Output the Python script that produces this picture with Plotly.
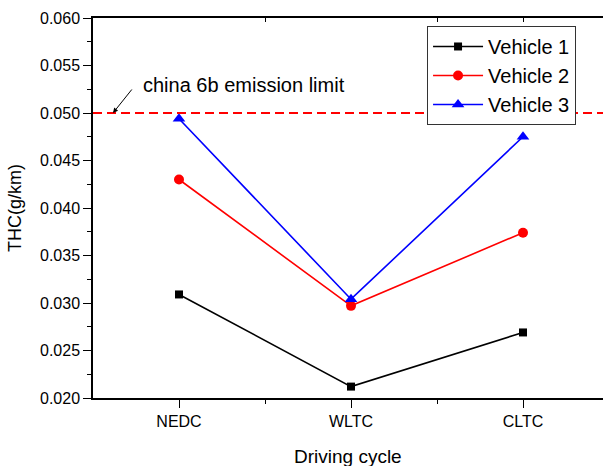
import plotly.graph_objects as go

categories = ["NEDC", "WLTC", "CLTC"]
vehicle1 = [0.0309, 0.0212, 0.0269]
vehicle2 = [0.0430, 0.0297, 0.0374]
vehicle3 = [0.0494, 0.0304, 0.0475]
limit_value = 0.050
limit_label = "china 6b emission limit"
y_ticks = [0.020, 0.025, 0.030, 0.035, 0.040, 0.045, 0.050, 0.055, 0.060]

FONT = "Arial, Liberation Sans, sans-serif"
xpos = list(range(len(categories)))

fig = go.Figure()
series = [
    ("Vehicle 1", vehicle1, "black", "square", 8),
    ("Vehicle 2", vehicle2, "red", "circle", 10),
    ("Vehicle 3", vehicle3, "blue", "triangle-up", 11),
]
for name, vals, col, sym, sz in series:
    fig.add_trace(go.Scatter(
        x=xpos, y=vals, name=name, mode="lines+markers",
        line=dict(color=col, width=1.6),
        marker=dict(symbol=sym, size=sz, color=col),
    ))

# invisible trace to drive the top mirror axis
fig.add_trace(go.Scatter(x=[xpos[0]], y=[None], xaxis="x2", showlegend=False, hoverinfo="skip"))

fig.add_shape(type="line", xref="paper", x0=0, x1=1, yref="y", y0=limit_value, y1=limit_value,
              line=dict(color="red", width=2, dash="9px,5px"))

xr = [-0.5, -0.5 + 510 / 172]

fig.add_annotation(x=-0.5 + 20 / 172, y=limit_value, xref="x", yref="y",
                   text="", showarrow=True, arrowhead=2, arrowsize=1, arrowwidth=1,
                   arrowcolor="black", ax=20, ay=-25)
fig.add_annotation(x=-0.5 + 48 / 172, y=0.0530, xref="x", yref="y",
                   text=limit_label, showarrow=False, xanchor="left", yanchor="middle",
                   font=dict(family=FONT, size=20, color="black"))
fig.add_annotation(x=0.5, y=-58 / 380, xref="paper", yref="paper",
                   text="Driving cycle", showarrow=False, xanchor="center", yanchor="middle",
                   font=dict(family=FONT, size=19, color="black"))

fig.update_layout(
    width=603, height=466,
    margin=dict(l=93, r=0, t=18, b=68),
    paper_bgcolor="white", plot_bgcolor="white",
    font=dict(family=FONT, color="black"),
    showlegend=True,
    legend=dict(x=0.655, y=0.979, xanchor="left", yanchor="top",
                bordercolor="#333333", borderwidth=1, bgcolor="white",
                font=dict(family=FONT, size=20), tracegroupgap=0,
                itemwidth=50),
    xaxis=dict(
        range=xr, tickvals=xpos, ticktext=categories, automargin=False,
        showline=True, linecolor="black", linewidth=1.5,
        ticks="outside", ticklen=8, tickwidth=1.2, tickcolor="black",
        minor=dict(tickvals=[0.5, 1.5], ticks="outside", ticklen=4, tickwidth=1.2, tickcolor="black"),
        showgrid=False, zeroline=False,
        tickfont=dict(family=FONT, size=16),
    ),
    xaxis2=dict(
        overlaying="x", side="top", range=xr, tickvals=[0.5, 1.5, 2.0], automargin=False,
        showticklabels=False, showline=True, linecolor="black", linewidth=1.5,
        ticks="inside", ticklen=4, tickwidth=1.2, tickcolor="black",
        showgrid=False, zeroline=False,
    ),
    yaxis=dict(
        range=[0.020, 0.060], tickvals=y_ticks, tickformat=".3f", automargin=False,
        showline=True, linecolor="black", linewidth=1.5,
        ticks="outside", ticklen=8, tickwidth=1.2, tickcolor="black",
        minor=dict(dtick=0.0025, ticks="outside", ticklen=4, tickwidth=1.2, tickcolor="black"),
        showgrid=False, zeroline=False,
        tickfont=dict(family=FONT, size=16),
        title=dict(text="THC(g/km)", font=dict(family=FONT, size=18), standoff=14),
    ),
)

fig.write_html(
    "out.html",
    config={"displayModeBar": False},
    post_script="document.body.style.margin='0';document.body.style.overflow='hidden';",
)
